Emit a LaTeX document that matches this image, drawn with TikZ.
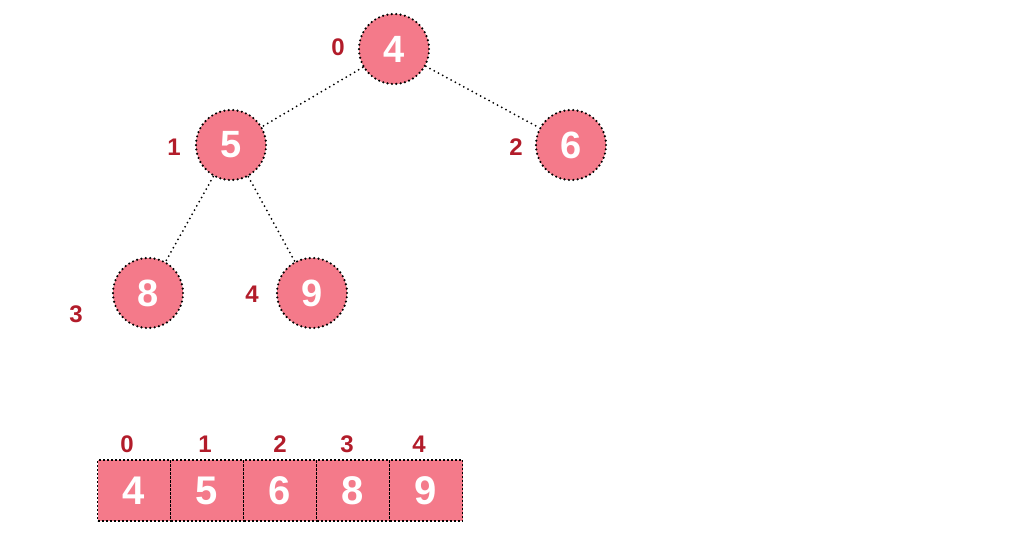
\documentclass[tikz,border=0pt]{standalone}
\usepackage{fontspec}
\setmainfont{Liberation Sans}
\begin{document}
\definecolor{heapfill}{RGB}{244,122,138}
\definecolor{idxred}{RGB}{178,28,42}
\begin{tikzpicture}[x=1pt,y=-1pt,
  dotline/.style={draw=black,line cap=round,line width=2.4pt,dash pattern=on 0pt off 4.4pt},
  heapnode/.style={circle,fill=heapfill,dotline,minimum size=70pt,inner sep=0pt,text=white,font=\fontsize{38}{38}\selectfont\bfseries},
  idx/.style={text=idxred,font=\fontsize{24}{24}\selectfont\bfseries,inner sep=0pt},
  cell/.style={rectangle,fill=heapfill,draw=black,line width=1.4pt,dash pattern=on 2pt off 2pt,minimum width=73pt,minimum height=61pt,inner sep=0pt,text=white,font=\fontsize{40}{40}\selectfont\bfseries},
  edge/.style={draw=black,line cap=round,line width=2pt,dash pattern=on 0pt off 4.8pt}]
\useasboundingbox (0,0) rectangle (1016,546);
% tree
\node[heapnode] (n0) at (394,49) {4};
\node[heapnode] (n1) at (231,145) {5};
\node[heapnode] (n2) at (571,145) {6};
\node[heapnode] (n3) at (148,293) {8};
\node[heapnode] (n4) at (312,293) {9};
\draw[edge] (n0) -- (n1);
\draw[edge] (n0) -- (n2);
\draw[edge] (n1) -- (n3);
\draw[edge] (n1) -- (n4);
% tree indices
\node[idx] (i0) at (338,47) {0};
\node[idx] (i1) at (174,147) {1};
\node[idx] (i2) at (516,147) {2};
\node[idx] (i3) at (76,314) {3};
\node[idx] (i4) at (252,294) {4};
% array
\node[cell] (a0) at (134,490.5) {4};
\node[cell] (a1) at (207,490.5) {5};
\node[cell] (a2) at (280,490.5) {6};
\node[cell] (a3) at (353,490.5) {8};
\node[cell] (a4) at (426,490.5) {9};
% array indices
\node[idx] (j0) at (127,444) {0};
\node[idx] (j1) at (205,444) {1};
\node[idx] (j2) at (280,444) {2};
\node[idx] (j3) at (347,444) {3};
\node[idx] (j4) at (419,444) {4};
\end{tikzpicture}
\end{document}
